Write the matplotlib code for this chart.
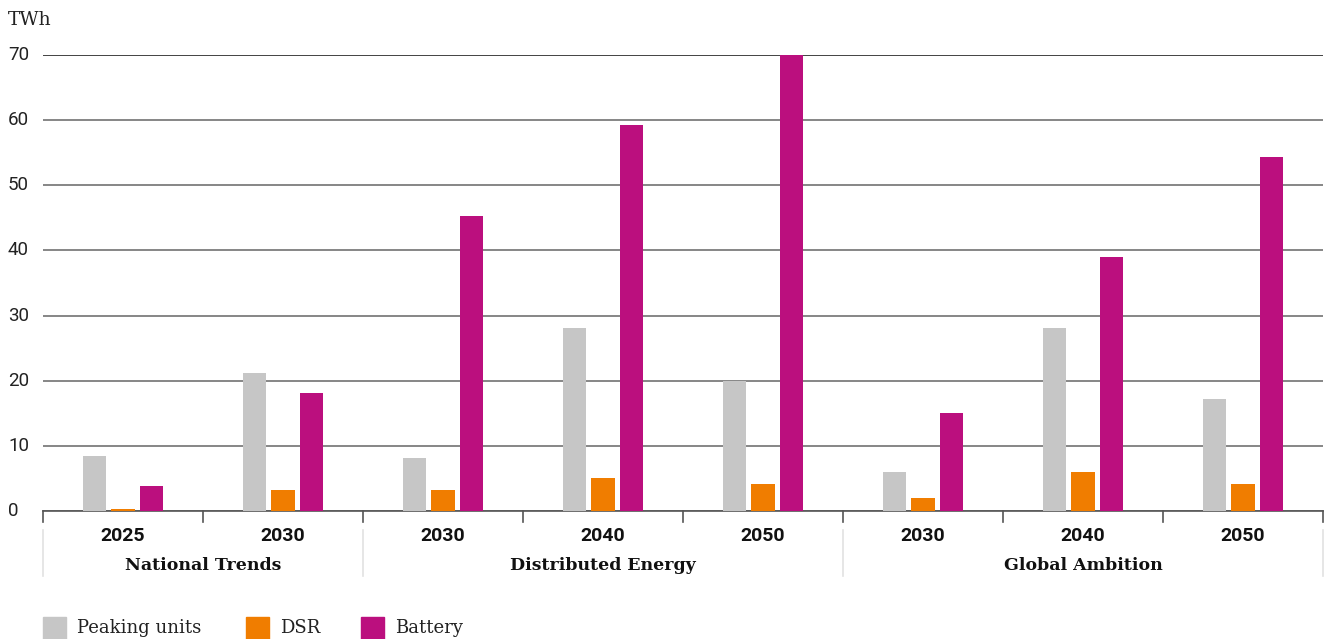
import matplotlib
matplotlib.use("Agg")
import matplotlib.pyplot as plt
import numpy as np
from matplotlib.transforms import blended_transform_factory
from matplotlib.patches import Rectangle

years = ["2025", "2030", "2030", "2040", "2050", "2030", "2040", "2050"]
groups = ["National Trends", "Distributed Energy", "Global Ambition"]
group_sizes = [2, 3, 3]
series_names = ["Peaking units", "DSR", "Battery"]
peaking = [8.4, 21.2, 8.1, 28.1, 20.0, 6.0, 28.1, 17.2]
dsr = [0.3, 3.2, 3.2, 5.1, 4.1, 2.0, 6.0, 4.1]
battery = [3.8, 18.1, 45.3, 59.3, 70.0, 15.0, 39.0, 54.3]
colors = ["#c6c6c6", "#f07d00", "#bb0f7e"]
yticks = [0, 10, 20, 30, 40, 50, 60, 70]

serif = "DejaVu Serif"
sans = "Roboto"

W, H = 1325, 639
fig = plt.figure(figsize=(W / 100, H / 100), dpi=100)
ax = fig.add_axes([43 / W, (H - 511) / H, 1280 / W, 456 / H])

x = np.arange(len(years))
bw = 0.144
step = 0.178
for i, (vals, c) in enumerate(zip([peaking, dsr, battery], colors)):
    ax.bar(x + (i - 1) * step, vals, width=bw, color=c, zorder=3)

ax.set_xlim(-0.5, len(years) - 0.5)
ax.set_ylim(0, 70)
ax.set_yticks(yticks)
ax.yaxis.grid(True, color="#666666", linewidth=1.1, zorder=0)
ax.set_axisbelow(True)
gl = ax.yaxis.get_gridlines()
gl[-1].set_color("#111111")
for s in ["top", "right", "left"]:
    ax.spines[s].set_visible(False)
ax.spines["bottom"].set_color("#555555")
ax.spines["bottom"].set_linewidth(1.2)
ax.tick_params(axis="y", length=0, labelleft=False)
ax.tick_params(axis="x", length=0, labelbottom=False)

# y tick labels
ty = blended_transform_factory(fig.transFigure, ax.transData)
for t in yticks:
    fig.text(8 / W, t, str(t), transform=ty, ha="left", va="center",
             fontsize=13.5, family=sans, color="#222222")
fig.text(8 / W, (H - 20) / H, "TWh", ha="left", va="center", fontsize=13.5,
         family=serif, color="#222222")

# category boundary ticks
tx = blended_transform_factory(ax.transData, fig.transFigure)
for b in np.arange(len(years) + 1) - 0.5:
    ax.plot([b, b], [(H - 511) / H, (H - 522) / H], transform=tx,
            color="#555555", linewidth=1.2, clip_on=False)
# group separators
bounds = np.concatenate([[0], np.cumsum(group_sizes)]) - 0.5
for b in bounds:
    ax.plot([b, b], [(H - 530) / H, (H - 576) / H], transform=tx,
            color="#e2e2e2", linewidth=1.2, clip_on=False)

for xi, y in zip(x, years):
    fig.text(xi, (H - 536) / H, y, transform=tx, ha="center", va="center",
             fontsize=14, fontweight="bold", family=sans, color="#111111")
for g, lo, hi in zip(groups, bounds[:-1], bounds[1:]):
    fig.text((lo + hi) / 2, (H - 566) / H, g, transform=tx, ha="center",
             va="center", fontsize=12.5, fontweight="bold", family=serif,
             color="#111111")

# legend
leg_x = [43, 246, 361]
for lx, name, c in zip(leg_x, series_names, colors):
    fig.patches.append(Rectangle((lx / W, (H - 639) / H), 23 / W, 22 / H,
                                 transform=fig.transFigure, color=c))
    fig.text((lx + 34) / W, (H - 628) / H, name, ha="left", va="center",
             fontsize=13, family=serif, color="#222222")

fig.savefig("out.png", dpi=100)
